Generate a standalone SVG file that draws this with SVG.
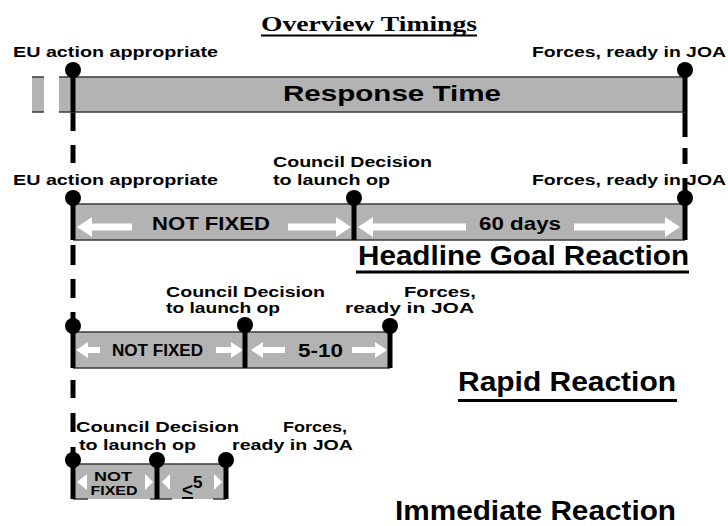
<svg xmlns="http://www.w3.org/2000/svg" width="728" height="526" viewBox="0 0 728 526">
  <style>
    .lbl { font-family: "Liberation Sans", Arial, sans-serif; font-weight: bold; fill: #000; }
    .ttl { font-family: "Liberation Serif", "Times New Roman", serif; font-weight: bold; fill: #000; }
    .bar { fill: #b3b3b3; }
    .edge { stroke: #3a3a3a; stroke-width: 1.5; }
    .stem { stroke: #000; stroke-width: 5; }
    .dot { fill: #000; }
    .arr { fill: #fff; }
    .rule { stroke: #000; stroke-width: 3; }
  </style>
  <rect width="728" height="526" fill="#fff"/>

  <!-- heading -->
  <g id="title">
    <text class="ttl" x="261" y="31" font-size="21" textLength="216" lengthAdjust="spacingAndGlyphs">Overview Timings</text>
    <line x1="261" y1="35.5" x2="477" y2="35.5" stroke="#000" stroke-width="2"/>
  </g>

  <!-- dashed guide lines between the rows -->
  <g id="connectors" class="stem">
    <line x1="73" y1="112" x2="73" y2="131"/>
    <line x1="73" y1="145" x2="73" y2="163"/>
    <line x1="73" y1="245" x2="73" y2="265"/>
    <line x1="73" y1="279" x2="73" y2="298"/>
    <line x1="73" y1="312" x2="73" y2="327"/>
    <line x1="73" y1="380" x2="73" y2="398"/>
    <line x1="73" y1="413" x2="73" y2="432"/>
    <line x1="73" y1="447" x2="73" y2="459"/>
    <line x1="685" y1="112" x2="685" y2="137"/>
    <line x1="685" y1="148" x2="685" y2="164"/>
    <line x1="685" y1="178" x2="685" y2="191"/>
  </g>

  <!-- row 1: overall response time -->
  <g id="response-time">
    <rect class="bar" x="32" y="77" width="12" height="35"/>
    <line class="edge" x1="32" y1="77" x2="44" y2="77"/>
    <line class="edge" x1="32" y1="112" x2="44" y2="112"/>
    <rect class="bar" x="59" y="77" width="626" height="35"/>
    <line class="edge" x1="59" y1="77" x2="685" y2="77"/>
    <line class="edge" x1="59" y1="112" x2="685" y2="112"/>
    <text class="lbl" x="283" y="101" font-size="22" textLength="218" lengthAdjust="spacingAndGlyphs">Response Time</text>
    <text class="lbl" x="13" y="57" font-size="14" textLength="205" lengthAdjust="spacingAndGlyphs">EU action appropriate</text>
    <text class="lbl" x="532" y="57" font-size="14" textLength="194" lengthAdjust="spacingAndGlyphs">Forces, ready in JOA</text>
    <line class="stem" x1="73" y1="70" x2="73" y2="112"/>
    <circle class="dot" cx="73" cy="70" r="8"/>
    <line class="stem" x1="685" y1="70" x2="685" y2="112"/>
    <circle class="dot" cx="685" cy="70" r="8"/>
  </g>

  <!-- row 2: headline goal reaction -->
  <g id="headline-goal">
    <rect class="bar" x="73" y="204" width="612" height="36"/>
    <line class="edge" x1="73" y1="204" x2="685" y2="204"/>
    <line class="edge" x1="73" y1="240" x2="685" y2="240"/>
    <polygon class="arr" points="77,227 92,217 92,223.5 132,223.5 132,230.5 92,230.5 92,237"/>
    <polygon class="arr" points="351,227 336,217 336,223.5 288,223.5 288,230.5 336,230.5 336,237"/>
    <polygon class="arr" points="358,227 373,217 373,223.5 466,223.5 466,230.5 373,230.5 373,237"/>
    <polygon class="arr" points="680,227 665,217 665,223.5 574,223.5 574,230.5 665,230.5 665,237"/>
    <text class="lbl" x="152" y="230" font-size="19" textLength="118" lengthAdjust="spacingAndGlyphs">NOT FIXED</text>
    <text class="lbl" x="479" y="230" font-size="19" textLength="82" lengthAdjust="spacingAndGlyphs">60 days</text>
    <text class="lbl" x="13" y="185" font-size="14" textLength="205" lengthAdjust="spacingAndGlyphs">EU action appropriate</text>
    <text class="lbl" x="273" y="167" font-size="14" textLength="159" lengthAdjust="spacingAndGlyphs">Council Decision</text>
    <text class="lbl" x="273" y="185" font-size="14" textLength="117" lengthAdjust="spacingAndGlyphs">to launch op</text>
    <text class="lbl" x="532" y="185" font-size="14" textLength="194" lengthAdjust="spacingAndGlyphs">Forces, ready in JOA</text>
    <line class="stem" x1="73" y1="198" x2="73" y2="240"/>
    <circle class="dot" cx="73" cy="198" r="8"/>
    <line class="stem" x1="354" y1="198" x2="354" y2="240"/>
    <circle class="dot" cx="354" cy="198" r="8"/>
    <line class="stem" x1="685" y1="198" x2="685" y2="240"/>
    <circle class="dot" cx="685" cy="198" r="8"/>
    <text class="lbl" x="358" y="265" font-size="27" textLength="331" lengthAdjust="spacingAndGlyphs">Headline Goal Reaction</text>
    <line class="rule" x1="356" y1="272" x2="689" y2="272"/>
  </g>

  <!-- row 3: rapid reaction -->
  <g id="rapid-reaction">
    <rect class="bar" x="73" y="332" width="317" height="36"/>
    <line class="edge" x1="73" y1="332" x2="390" y2="332"/>
    <line class="edge" x1="73" y1="368" x2="390" y2="368"/>
    <polygon class="arr" points="76,350 88,342 88,347 100,347 100,353 88,353 88,358"/>
    <polygon class="arr" points="243,350 231,342 231,347 216,347 216,353 231,353 231,358"/>
    <polygon class="arr" points="251,350 263,342 263,347 285,347 285,353 263,353 263,358"/>
    <polygon class="arr" points="387,350 375,342 375,347 352,347 352,353 375,353 375,358"/>
    <text class="lbl" x="112" y="356" font-size="16" textLength="91" lengthAdjust="spacingAndGlyphs">NOT FIXED</text>
    <text class="lbl" x="298" y="357" font-size="19" textLength="45" lengthAdjust="spacingAndGlyphs">5-10</text>
    <text class="lbl" x="166" y="297" font-size="14" textLength="159" lengthAdjust="spacingAndGlyphs">Council Decision</text>
    <text class="lbl" x="166" y="313" font-size="14" textLength="114" lengthAdjust="spacingAndGlyphs">to launch op</text>
    <text class="lbl" x="404" y="297" font-size="14" textLength="72" lengthAdjust="spacingAndGlyphs">Forces,</text>
    <text class="lbl" x="345" y="313" font-size="14" textLength="129" lengthAdjust="spacingAndGlyphs">ready in JOA</text>
    <line class="stem" x1="73" y1="326" x2="73" y2="368"/>
    <circle class="dot" cx="73" cy="326" r="8"/>
    <line class="stem" x1="245" y1="325" x2="245" y2="368"/>
    <circle class="dot" cx="245" cy="325" r="8"/>
    <line class="stem" x1="390" y1="326" x2="390" y2="368"/>
    <circle class="dot" cx="390" cy="326" r="8"/>
    <text class="lbl" x="458" y="391" font-size="27" textLength="218" lengthAdjust="spacingAndGlyphs">Rapid Reaction</text>
    <line class="rule" x1="458" y1="400.5" x2="677" y2="400.5"/>
  </g>

  <!-- row 4: immediate reaction -->
  <g id="immediate-reaction">
    <rect class="bar" x="73" y="464" width="153" height="35"/>
    <line class="edge" x1="73" y1="464" x2="226" y2="464"/>
    <line class="edge" x1="73" y1="499" x2="88" y2="499"/>
    <line class="edge" x1="150" y1="499" x2="172" y2="499"/>
    <line class="edge" x1="213" y1="499" x2="226" y2="499"/>
    <polygon class="arr" points="77,482 87,474 87,490"/>
    <polygon class="arr" points="153,482 145,474 145,490"/>
    <polygon class="arr" points="162,482 170,474 170,490"/>
    <polygon class="arr" points="222,482 214,474 214,490"/>
    <text class="lbl" x="113" y="481" font-size="12" text-anchor="middle" textLength="38" lengthAdjust="spacingAndGlyphs">NOT</text>
    <text class="lbl" x="114" y="495" font-size="12" text-anchor="middle" textLength="47" lengthAdjust="spacingAndGlyphs">FIXED</text>
    <text class="lbl" x="182" y="496" font-size="19"><tspan text-decoration="underline">&lt;</tspan><tspan font-size="17" dy="-8">5</tspan></text>
    <text class="lbl" x="76" y="432" font-size="14" textLength="163" lengthAdjust="spacingAndGlyphs">Council Decision</text>
    <text class="lbl" x="79" y="450" font-size="14" textLength="117" lengthAdjust="spacingAndGlyphs">to launch op</text>
    <text class="lbl" x="283" y="432" font-size="14" textLength="64" lengthAdjust="spacingAndGlyphs">Forces,</text>
    <text class="lbl" x="232" y="450" font-size="14" textLength="121" lengthAdjust="spacingAndGlyphs">ready in JOA</text>
    <line class="stem" x1="73" y1="460" x2="73" y2="499"/>
    <circle class="dot" cx="73" cy="460" r="8"/>
    <line class="stem" x1="157" y1="460" x2="157" y2="499"/>
    <circle class="dot" cx="157" cy="460" r="8"/>
    <line class="stem" x1="226" y1="460" x2="226" y2="499"/>
    <circle class="dot" cx="226" cy="460" r="8"/>
    <text class="lbl" x="395" y="520" font-size="27" textLength="281" lengthAdjust="spacingAndGlyphs">Immediate Reaction</text>
  </g>
</svg>
